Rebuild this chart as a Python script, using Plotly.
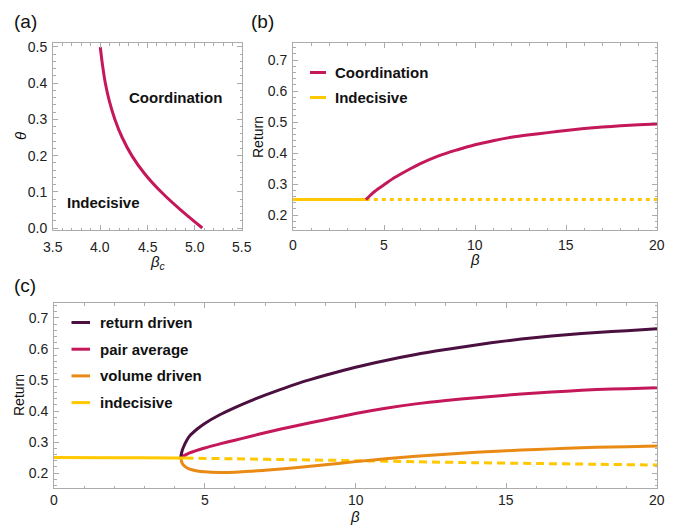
import plotly.graph_objects as go

W, H = 678, 529
OFF = 8  # page body margin offset compensation

# ---------------- data ----------------
# (a) phase boundary: theta vs beta_c
theta_a = [0.5, 0.45, 0.4, 0.35, 0.3, 0.25, 0.2, 0.15, 0.1, 0.05, 0.0]
betac_a = [4.0, 4.024, 4.054, 4.097, 4.155, 4.232, 4.334, 4.47, 4.643, 4.85, 5.08]
label_coord_a = (4.80, 0.361)
label_indec_a = (4.03, 0.071)
xticks_a = [3.5, 4.0, 4.5, 5.0, 5.5]
yticks_a = [0, 0.1, 0.2, 0.3, 0.4, 0.5]

# (b) coordination return vs beta
beta_b_coord = [4.0, 4.25, 4.5, 5, 5.5, 6, 6.5, 7, 8, 9, 10, 11, 12, 13, 14, 15, 16, 17, 18, 19, 20]
ret_b_coord = [0.25, 0.264, 0.277, 0.298, 0.318, 0.335, 0.351, 0.366, 0.391, 0.410, 0.427,
               0.440, 0.451, 0.459, 0.466, 0.473, 0.479, 0.484, 0.488, 0.491, 0.494]
beta_b_ind_stable = [0, 4.0]
ret_b_ind_stable = [0.25, 0.25]
beta_b_ind_unstable = [4.0, 20]
ret_b_ind_unstable = [0.25, 0.25]
xticks_bc = [0, 5, 10, 15, 20]
yticks_bc = [0.2, 0.3, 0.4, 0.5, 0.6, 0.7]

# (c) returns vs beta
beta_c_ret = [4.2, 4.25, 4.3, 4.4, 4.5, 4.75, 5, 5.5, 6, 6.5, 7, 7.5, 8, 8.5, 9, 10, 11, 12, 13, 14, 15, 16, 17, 18, 19, 20]
ret_driven = [0.25, 0.272, 0.285, 0.305, 0.32, 0.342, 0.36, 0.388, 0.411, 0.432, 0.451, 0.469, 0.486,
              0.501, 0.515, 0.541, 0.563, 0.582, 0.598, 0.613, 0.626, 0.637, 0.646, 0.653, 0.659, 0.665]
beta_c_pair = [4.2, 4.5, 5, 5.5, 6, 6.5, 7, 8, 9, 10, 11, 12, 13, 14, 15, 16, 17, 18, 19, 20]
pair_avg = [0.25, 0.265, 0.281, 0.294, 0.306, 0.318, 0.330, 0.352, 0.372, 0.392, 0.409, 0.423,
            0.434, 0.443, 0.451, 0.458, 0.464, 0.469, 0.472, 0.475]
beta_c_vol = [4.2, 4.25, 4.35, 4.5, 4.75, 5, 5.5, 6, 6.5, 7, 8, 9, 10, 11, 12, 13, 14, 15, 16, 17, 18, 19, 20]
vol_driven = [0.25, 0.232, 0.221, 0.213, 0.207, 0.204, 0.202, 0.203, 0.206, 0.209, 0.217, 0.227, 0.237,
              0.246, 0.254, 0.261, 0.267, 0.272, 0.276, 0.280, 0.283, 0.285, 0.287]
beta_c_ind_stable = [0, 2, 4, 4.35]
ind_stable = [0.25, 0.2496, 0.2488, 0.2485]
beta_c_ind_unstable = [4.35, 6, 8, 10, 12, 14, 16, 18, 20]
ind_unstable = [0.2485, 0.246, 0.243, 0.240, 0.2365, 0.2335, 0.231, 0.2285, 0.226]

legend_b = ["Coordination", "Indecisive"]
legend_c = ["return driven", "pair average", "volume driven", "indecisive"]

# ---------------- style ----------------
C_PURPLE = "#4b1040"
C_CRIMSON = "#c4185a"
C_ORANGE = "#e98a15"
C_YELLOW = "#ffc800"
FRAME = "#ababab"
FONT = "Liberation Sans, Arial, Helvetica, sans-serif"
LW = 3

fig = go.Figure()

def line(x, y, color, xa, ya, dash="solid", width=LW):
    fig.add_trace(go.Scatter(x=x, y=y, mode="lines", xaxis=xa, yaxis=ya, showlegend=False,
                             line=dict(color=color, width=width, dash=dash, shape="spline", smoothing=0.8),
                             hoverinfo="skip"))

# (a)
line(betac_a, theta_a, C_CRIMSON, "x", "y")
# (b)
line(beta_b_ind_unstable, ret_b_ind_unstable, C_YELLOW, "x2", "y2", dash="4px,4px")
line(beta_b_ind_stable, ret_b_ind_stable, C_YELLOW, "x2", "y2")
line(beta_b_coord, ret_b_coord, C_CRIMSON, "x2", "y2")
# (c)
line(beta_c_ind_unstable, ind_unstable, C_YELLOW, "x3", "y3", dash="8px,5px")
line(beta_c_vol, vol_driven, C_ORANGE, "x3", "y3")
line(beta_c_pair, pair_avg, C_CRIMSON, "x3", "y3")
line(beta_c_ret, ret_driven, C_PURPLE, "x3", "y3")
line(beta_c_ind_stable, ind_stable, C_YELLOW, "x3", "y3")

def px_x(p):
    return (p - OFF) / W

def px_y(p):
    return 1 - (p - OFF) / H

def axis(domain, rng, tickvals, fmt, minor_dtick, anchor, standoff=2, labels=True):
    return dict(domain=domain, range=rng, tickvals=tickvals, tickformat=fmt,
                showgrid=False, zeroline=False, showline=True, linecolor=FRAME, linewidth=1,
                mirror="allticks", ticks="inside", ticklen=5, tickcolor=FRAME, tickwidth=1,
                minor=dict(dtick=minor_dtick, ticks="inside", ticklen=2.5, tickcolor=FRAME, showgrid=False),
                tickfont=dict(family=FONT, size=14, color="#222"), anchor=anchor, automargin=False,
                showticklabels=labels, ticklabelstandoff=standoff, fixedrange=True)

xa = [px_x(53), px_x(242)]
xb = [px_x(293), px_x(657)]
xc = [px_x(54), px_x(657)]
yab = [px_y(230), px_y(43)]
yc = [px_y(488), px_y(303)]

fig.update_layout(
    width=W, height=H, margin=dict(l=0, r=0, t=0, b=0, autoexpand=False),
    paper_bgcolor="white", plot_bgcolor="white",
    xaxis=axis(xa, [3.5, 5.5], xticks_a, ".1f", 0.1, "y", labels=False),
    yaxis=axis(yab, [-0.0055, 0.511], yticks_a, ".1f", 0.02, "x", 2),
    xaxis2=axis(xb, [0, 20], xticks_bc, "d", 1, "y2", labels=False),
    yaxis2=axis(yab, [0.152, 0.755], yticks_bc, ".1f", 0.02, "x2", 2),
    xaxis3=axis(xc, [0, 20], xticks_bc, "d", 1, "y3", labels=False),
    yaxis3=axis(yc, [0.152, 0.748], yticks_bc, ".1f", 0.02, "x3", 2),
)

ann = []
shapes = []

def text(x, y, s, size=14, bold=False, xref="paper", yref="paper", angle=0, xanchor="center", color="#111"):
    if bold:
        s = "<b>" + s + "</b>"
    ann.append(dict(x=x, y=y, xref=xref, yref=yref, text=s, showarrow=False, textangle=angle,
                    xanchor=xanchor, yanchor="middle", borderpad=0,
                    font=dict(family=FONT, size=size, color=color)))

# x tick labels (placed on each axis' own scale)
for v in xticks_a:
    text(v, px_y(246.5), f"{v:.1f}", size=14, xref="x", color="#222")
for v in xticks_bc:
    text(v, px_y(245.5), f"{v:d}", size=14, xref="x2", color="#222")
    text(v, px_y(500), f"{v:d}", size=14, xref="x3", color="#222")

# panel labels
text(px_x(25), px_y(21), "(a)", size=19)
text(px_x(263), px_y(21), "(b)", size=19)
text(px_x(25), px_y(285), "(c)", size=19)

# axis titles
text(px_x(21), px_y(136), "<i>θ</i>", size=15, angle=-90)
text(px_x(158), px_y(263), "<i>β</i><sub><i>c</i></sub>", size=15)
text(px_x(258), px_y(137), "Return", size=14, angle=-90)
text(px_x(475), px_y(259.5), "<i>β</i>", size=15)
text(px_x(19), px_y(395), "Return", size=14, angle=-90)
text(px_x(355), px_y(516), "<i>β</i>", size=15)

# region labels in (a)
text(label_coord_a[0], label_coord_a[1], "Coordination", size=15, bold=True, xref="x", yref="y")
text(label_indec_a[0], label_indec_a[1], "Indecisive", size=15, bold=True, xref="x", yref="y")

# legend (b)
for i, (name, col) in enumerate(zip(legend_b, [C_CRIMSON, C_YELLOW])):
    yy = px_y(72.5 + 25 * i)
    shapes.append(dict(type="line", xref="paper", yref="paper", x0=px_x(310), x1=px_x(326), y0=yy, y1=yy,
                       line=dict(color=col, width=3)))
    text(px_x(334), yy, name, size=15, bold=True, xanchor="left")

# legend (c)
for i, (name, col) in enumerate(zip(legend_c, [C_PURPLE, C_CRIMSON, C_ORANGE, C_YELLOW])):
    yy = px_y(322.5 + 26.7 * i)
    shapes.append(dict(type="line", xref="paper", yref="paper", x0=px_x(71.5), x1=px_x(90), y0=yy, y1=yy,
                       line=dict(color=col, width=3)))
    text(px_x(99), yy, name, size=15, bold=True, xanchor="left")

fig.update_layout(annotations=ann, shapes=shapes)
fig.write_html("out.html", config={"displayModeBar": False})
